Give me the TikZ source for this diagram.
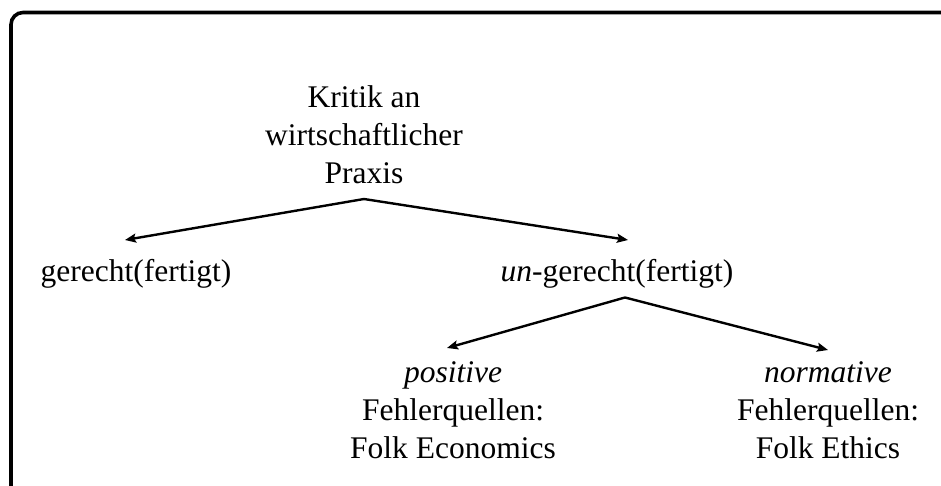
\documentclass[tikz,border=0pt]{standalone}
\usepackage{fontspec}
\setmainfont{Liberation Serif}
\usetikzlibrary{arrows.meta}
\newcommand\cstack[1]{\vtop{\halign{\hfil##\hfil\cr#1\cr}}}
\begin{document}
\begin{tikzpicture}[x=1pt,y=-1pt,
  lbl/.style={anchor=base,inner sep=0pt,font=\fontsize{31.5}{38}\selectfont},
  conn/.style={line width=2.4pt,-{Stealth[length=11pt,width=9pt,inset=2pt]}},
  frame/.style={line width=3.6pt,rounded corners=12pt}]
\useasboundingbox (0,0) rectangle (941,486);
\draw[frame] (11,12.5) rectangle (990,540);
% labels
\node[lbl] (top) at (364,107.5) {\cstack{Kritik an\cr wirtschaftlicher\cr Praxis}};
\node[lbl] (just) at (136,281) {gerecht(fertigt)};
\node[lbl] (unjust) at (617,281) {\textit{un}-gerecht(fertigt)};
\node[lbl] (pos) at (453,382) {\cstack{\textit{positive}\cr Fehlerquellen:\cr Folk Economics}};
\node[lbl] (norm) at (828,382) {\cstack{\textit{normative}\cr Fehlerquellen:\cr Folk Ethics}};
% connector ends
\coordinate (topfoot) at (364,199);
\coordinate (justhead) at (125,240);
\coordinate (unjusthead) at (628,240);
\coordinate (unjustfoot) at (625,297.5);
\coordinate (poshead) at (447,348);
\coordinate (normhead) at (828,350);
% connectors
\draw[conn] (topfoot) -- (justhead);
\draw[conn] (topfoot) -- (unjusthead);
\draw[conn] (unjustfoot) -- (poshead);
\draw[conn] (unjustfoot) -- (normhead);
\end{tikzpicture}
\end{document}
